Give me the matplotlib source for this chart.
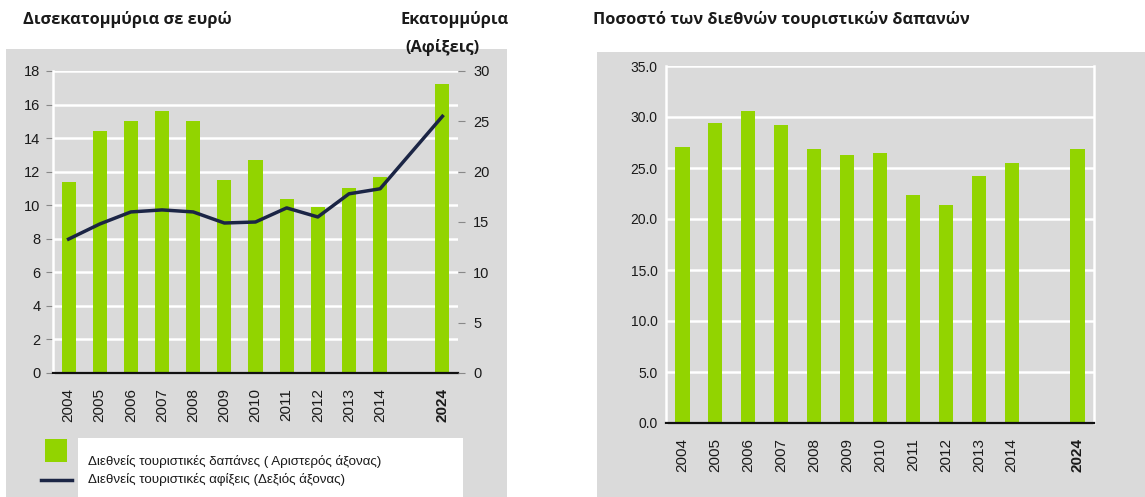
import matplotlib
matplotlib.use("Agg")
import matplotlib.pyplot as plt
import numpy as np
from matplotlib.patches import Rectangle
from matplotlib.lines import Line2D

# ---- data ----
years = ["2004", "2005", "2006", "2007", "2008", "2009", "2010", "2011", "2012", "2013", "2014", "", "2024"]
spending_bn = [11.4, 14.4, 15.0, 15.6, 15.0, 11.5, 12.7, 10.4, 9.9, 11.0, 11.7, None, 17.2]
arrivals_mn = [13.3, 14.8, 16.0, 16.2, 16.0, 14.9, 15.0, 16.4, 15.5, 17.8, 18.3, None, 25.5]
share_pct = [27.1, 29.4, 30.6, 29.2, 26.9, 26.3, 26.5, 22.4, 21.4, 24.2, 25.5, None, 26.9]

left_ticks = [0, 2, 4, 6, 8, 10, 12, 14, 16, 18]
right_ticks = [0, 5, 10, 15, 20, 25, 30]
pct_ticks = [0, 5, 10, 15, 20, 25, 30, 35]

title_left = "Δισεκατομμύρια σε ευρώ"
title_right_axis_1 = "Εκατομμύρια"
title_right_axis_2 = "(Αφίξεις)"
title_pct = "Ποσοστό των διεθνών τουριστικών δαπανών"
legend_labels = ["Διεθνείς τουριστικές δαπάνες ( Αριστερός άξονας)",
                 "Διεθνείς τουριστικές αφίξεις (Δεξιός άξονας)"]

GREEN = "#92D400"
NAVY = "#1B2545"
GRAY = "#DADADA"
TXT = "#1a1a1a"

TICKFONT = ["Liberation Sans", "DejaVu Sans"]
TITLEFONT = ["Open Sans", "DejaVu Sans"]

W, H = 1145, 497
fig = plt.figure(figsize=(W / 100, H / 100), dpi=100)
fig.patch.set_facecolor("white")

def px(x0, y0, x1, y1):
    return [x0 / W, 1 - y1 / H, (x1 - x0) / W, (y1 - y0) / H]

# gray panels (behind axes)
fig.patches.append(Rectangle((6 / W, 0), (507 - 6) / W, 1 - 49 / H, transform=fig.transFigure,
                             facecolor=GRAY, edgecolor="none", zorder=-10))
fig.patches.append(Rectangle((597 / W, 0), (W - 597) / W, 1 - 52 / H, transform=fig.transFigure,
                             facecolor=GRAY, edgecolor="none", zorder=-10))

def idx_valid(vals):
    xs = [i for i, v in enumerate(vals) if v is not None]
    ys = [vals[i] for i in xs]
    return xs, ys

# ---------- left chart ----------
ax = fig.add_axes(px(53, 71, 458, 373))
ax.set_facecolor(GRAY)
x = np.arange(len(years))
bx, by = idx_valid(spending_bn)
ax.bar(bx, by, width=0.45, color=GREEN, zorder=3)
ax.set_xlim(-0.5, len(years) - 0.5)
ax.set_ylim(0, 18)
ax.set_yticks(left_ticks)
ax.grid(axis="y", color="white", linewidth=1.8, zorder=1)
ax.set_axisbelow(True)
for s in ["top", "right"]:
    ax.spines[s].set_visible(False)
ax.spines["left"].set_color("white")
ax.spines["left"].set_linewidth(1.8)
ax.spines["bottom"].set_color("#111111")
ax.spines["bottom"].set_linewidth(1.6)
ax.spines["bottom"].set_zorder(5)
ax.tick_params(axis="y", length=5, color="#888888", pad=4, labelsize=10.5, labelcolor=TXT)
ax.tick_params(axis="x", length=0, pad=11)
ax.set_xticks([i for i in x if years[i]])
ax.set_xticklabels([years[i] for i in x if years[i]], rotation=90, fontsize=11, color=TXT, family=TICKFONT)
for lab in ax.get_xticklabels():
    if lab.get_text() == "2024":
        lab.set_fontweight("bold")
for lab in ax.get_yticklabels():
    lab.set_family(TICKFONT)

ax2 = ax.twinx()
lx, ly = idx_valid(arrivals_mn)
ax2.plot(lx, ly, color=NAVY, linewidth=2.5, zorder=4)
ax2.set_ylim(0, 30)
ax2.set_yticks(right_ticks)
for s in ["top", "left", "bottom", "right"]:
    ax2.spines[s].set_visible(False)
ax2.tick_params(axis="y", length=5, color="#888888", pad=6, labelsize=10.5, labelcolor=TXT)
for lab in ax2.get_yticklabels():
    lab.set_family(TICKFONT)

fig.text(23 / W, 1 - 20 / H, title_left, fontsize=11.8, fontweight="bold", family=TITLEFONT,
         color=TXT, va="center", ha="left")
fig.text(400 / W, 1 - 20 / H, title_right_axis_1, fontsize=11.8, fontweight="bold", family=TITLEFONT,
         color=TXT, va="center", ha="left")
fig.text(405 / W, 1 - 47 / H, title_right_axis_2, fontsize=11.8, fontweight="bold", family=TITLEFONT,
         color=TXT, va="center", ha="left")

# legend (drawn manually to match layout)
fig.patches.append(Rectangle((78 / W, 0), (463 - 78) / W, (H - 438) / H, transform=fig.transFigure,
                             facecolor="white", edgecolor="none", zorder=-5))
fig.patches.append(Rectangle((45 / W, 1 - 462 / H), 22 / W, 23 / H, transform=fig.transFigure,
                             facecolor=GREEN, edgecolor="none", zorder=2))
fig.lines.append(Line2D([41 / W, 72 / W], [1 - 480 / H, 1 - 480 / H], transform=fig.transFigure,
                        color=NAVY, linewidth=2.5, zorder=2))
fig.text(88 / W, 1 - 461 / H, legend_labels[0], fontsize=9.6, family=TICKFONT, color=TXT, va="center")
fig.text(88 / W, 1 - 479 / H, legend_labels[1], fontsize=9.6, family=TICKFONT, color=TXT, va="center")

# ---------- right chart ----------
ax3 = fig.add_axes(px(666, 66, 1094, 423))
ax3.set_facecolor(GRAY)
px_, py_ = idx_valid(share_pct)
ax3.bar(px_, py_, width=0.43, color=GREEN, zorder=3)
ax3.set_xlim(-0.5, len(years) - 0.5)
ax3.set_ylim(0, 35)
ax3.set_yticks(pct_ticks)
ax3.set_yticklabels([f"{t:.1f}" for t in pct_ticks], fontsize=10, family=TICKFONT, color=TXT)
ax3.grid(axis="y", color="white", linewidth=1.8, zorder=1)
ax3.set_axisbelow(True)
ax3.spines["top"].set_visible(False)
for s in ["left", "right"]:
    ax3.spines[s].set_color("white")
    ax3.spines[s].set_linewidth(1.8)
ax3.spines["bottom"].set_color("#111111")
ax3.spines["bottom"].set_linewidth(1.6)
ax3.spines["bottom"].set_zorder(5)
ax3.tick_params(axis="y", length=0, pad=6)
ax3.tick_params(axis="x", length=0, pad=11)
ax3.set_xticks([i for i in x if years[i]])
ax3.set_xticklabels([years[i] for i in x if years[i]], rotation=90, fontsize=11, color=TXT, family=TICKFONT)
for lab in ax3.get_xticklabels():
    if lab.get_text() == "2024":
        lab.set_fontweight("bold")

fig.text(593 / W, 1 - 20 / H, title_pct, fontsize=11.8, fontweight="bold", family=TITLEFONT,
         color=TXT, va="center", ha="left")

fig.savefig("out.png", dpi=100, facecolor="white")
